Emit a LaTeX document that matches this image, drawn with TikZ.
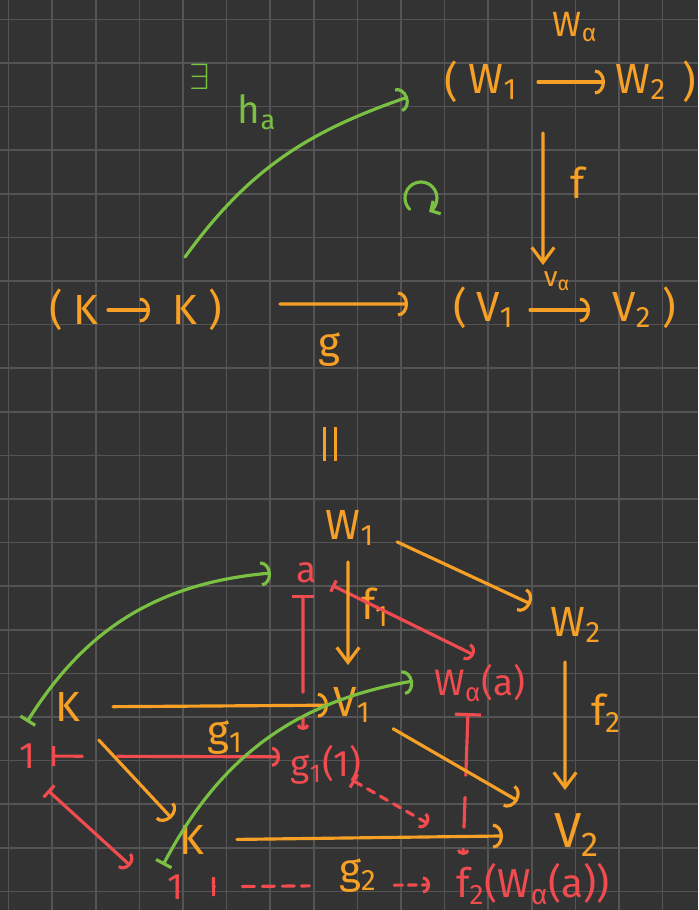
\documentclass[tikz,border=0pt]{standalone}
\usepackage{fontspec}
\setmainfont{Fira Sans}
\usepackage{tikz}
\usetikzlibrary{arrows.meta,fit}
\definecolor{boardbg}{RGB}{51,51,51}
\definecolor{boardgrid}{RGB}{84,84,84}
\definecolor{penorange}{RGB}{247,160,38}
\definecolor{pengreen}{RGB}{122,193,67}
\definecolor{penred}{RGB}{240,76,80}
\newcommand{\penidx}[1]{\textsubscript{#1}}

\begin{document}
\begin{tikzpicture}[
  x=0.02cm, y=-0.02cm,
  every node/.style={inner sep=2pt},
  otxt/.style={text=penorange, font=\fontsize{24}{28}\selectfont},
  rtxt/.style={text=penred, font=\fontsize{21}{25}\selectfont},
  gtxt/.style={text=pengreen, font=\fontsize{20}{24}\selectfont},
  ink/.style={line width=1.8pt, line cap=round},
  oarr/.style={ink, draw=penorange, -{Arc Barb[length=2mm, width=5mm]}},
  odown/.style={ink, draw=penorange, -{Straight Barb[length=3mm, width=4.5mm]}},
  rmap/.style={ink, draw=penred, {Bar[width=4mm]}-{Arc Barb[length=1.6mm, width=4mm]}},
  garr/.style={ink, draw=pengreen, -{Arc Barb[length=2mm, width=5mm]}},
  gmap/.style={ink, draw=pengreen, {Bar[width=3.5mm]}-{Arc Barb[length=2mm, width=5mm]}},
  boardline/.style={draw=boardgrid, line width=1pt}
]
\useasboundingbox (0,0) rectangle (698,910);
\fill[boardbg] (0,0) rectangle (698,910);
\foreach \i in {0,...,15}
  \draw[boardline] ({8.6+43.6*\i},0) -- ({8.6+43.6*\i},910);
\foreach \j in {0,...,20}
  \draw[boardline] (0,{19.4+43.6*\j}) -- (698,{19.4+43.6*\j});

\node[otxt, font=\fontsize{20}{24}\selectfont] (wa) at (575,27) {W\penidx{α}};
\node[otxt] (lpW) at (451,82) {(};
\node[otxt] (W1t) at (493,82) {W\penidx{1}};
\node[otxt] (W2t) at (641,82) {W\penidx{2}};
\node[otxt] (rpW) at (689,82) {)};
\node[otxt] (lpK) at (56,310) {(};
\node[otxt] (K1t) at (86,310) {K};
\node[otxt] (K2t) at (185,310) {K};
\node[otxt] (rpK) at (215,310) {)};
\node[otxt] (lpV) at (460,308) {(};
\node[otxt] (V1t) at (495,310) {V\penidx{1}};
\node[otxt] (V2t) at (632,310) {V\penidx{2}};
\node[otxt] (rpV) at (669,308) {)};
\node[otxt, font=\fontsize{16}{18}\selectfont] (va) at (557,281) {v\penidx{α}};
\node[otxt] (flab) at (578,183) {f};
\node[otxt] (glab) at (329,350) {g};
\node[gtxt, font=\fontsize{20}{22}\selectfont] (exists) at (200,77) {$\exists$};
\node[gtxt, font=\fontsize{22}{26}\selectfont] (ha) at (257,112) {h\penidx{a}};
\coordinate (comm) at (421,198);
\node[fit=(lpW)(rpW), inner sep=0pt] (Wpair) {};
\node[fit=(lpK)(rpK), inner sep=0pt] (Kpair) {};
\node[fit=(lpV)(rpV), inner sep=0pt] (Vpair) {};

\draw[oarr, shorten <=9mm, shorten >=7.2mm] (W1t.center) -- (W2t.center);
\draw[oarr, shorten <=4.4mm, shorten >=7mm] (K1t.center) -- (K2t.center);
\draw[oarr, shorten <=7mm, shorten >=8.4mm] (V1t.center) -- (V2t.center);
\draw[odown, shorten <=10.2mm, shorten >=8.6mm] ([xshift=-.54cm]Wpair.center) -- ([xshift=-.43cm]Vpair.center);
\draw[oarr, shorten <=28.9mm, shorten >=31.3mm] ([yshift=.12cm]Kpair.center) -- ([yshift=.08cm]Vpair.center);
\draw[garr] ([xshift=.99cm, yshift=1.06cm]Kpair.center) to[out=54, in=199] ([xshift=-3.24cm, yshift=-.3cm]Wpair.center);
\draw[ink, draw=pengreen, -{Straight Barb[length=1.4mm, width=3mm]}] ([shift={(225:3.2mm)}]comm) arc[start angle=225, end angle=-60, radius=3.2mm];

\node[text=penorange] (same) at (330,444) {\rule{1.7pt}{19pt}\hspace{4.5pt}\rule{1.7pt}{19pt}};

\node[otxt] (W1b) at (350,528) {W\penidx{1}};
\node[otxt] (W2b) at (576,625) {W\penidx{2}};
\node[otxt] (V1b) at (352,705) {V\penidx{1}};
\node[otxt, font=\fontsize{28}{32}\selectfont] (V2b) at (577,835) {V\penidx{2}};
\node[otxt] (Ka) at (68,707) {K};
\node[otxt] (Kb) at (192,840) {K};
\node[otxt] (f1) at (375,607) {f\penidx{1}};
\node[otxt] (f2) at (606,713) {f\penidx{2}};
\node[otxt] (g1) at (225,738) {g\penidx{1}};
\node[otxt] (g2) at (358,876) {g\penidx{2}};
\node[rtxt] (one1) at (27,756) {1};
\node[rtxt] (elta) at (307,573) {a};
\node[rtxt] (wofa) at (480,683) {W\penidx{α}(a)};
\node[rtxt] (g1one) at (326,765) {g\penidx{1}(1)};
\node[rtxt] (one2) at (175,887) {1};
\node[rtxt, font=\fontsize{23}{27}\selectfont] (f2w) at (533,884) {f\penidx{2}(W\penidx{α}(a))};

\draw[rmap, {Bar[width=2.5mm]}-{Arc Barb[length=1.6mm, width=3.6mm]}, shorten <=5.6mm] (elta.center) -- ([shift={(-6,-28)}]wofa.center);
\draw[rmap, {Bar[width=4.4mm]}-{Arc Barb[length=1mm, width=2.5mm]}, shorten <=4.4mm, dash pattern=on 19mm off 5mm on 10mm] ([xshift=-.08cm]elta.center) -- ([shift={(-23,-35)}]g1one.center);
\draw[rmap, shorten <=5mm, shorten >=9.2mm, dash pattern=on 5.6mm off 7mm on 40mm] (one1.center) -- ([yshift=.16cm]g1one.center);
\draw[rmap, {Bar[width=5.2mm]}-{Arc Barb[length=1mm, width=2.5mm]}, dash pattern=on 12mm off 4.4mm on 6mm off 4.4mm on 5mm] ([shift={(-12,30)}]wofa.center) -- ([shift={(-70,-29)}]f2w.center);
\draw[rmap, {Bar[width=3.2mm]}-{Arc Barb[length=1.6mm, width=4mm]}, shorten <=7.8mm, shorten >=9.9mm] ([shift={(-8,8)}]one1.center) -- ([shift={(-8,12)}]one2.center);
\draw[rmap, {Bar[width=3mm]}-{Arc Barb[length=1.4mm, width=3.4mm]}, dash pattern=on 1.6mm off 1.4mm, shorten <=6.1mm, shorten >=24.2mm] (g1one.center) -- (f2w.center);
\draw[rmap, {Bar[width=3.8mm]}-{Arc Barb[length=1.4mm, width=3.4mm]}, shorten <=7.4mm, shorten >=20.6mm, dash pattern=on 0mm off 5.6mm on 2.4mm off 1.6mm on 2.4mm off 1.6mm on 2.4mm off 1.4mm on 1.6mm off 17mm on 1.6mm off 1.2mm on 1.6mm off 1.2mm on 4mm] (one2.center) -- (f2w.center);

\draw[oarr, shorten <=10.4mm, shorten >=10mm] ([yshift=.16cm]W1b.center) -- (W2b.center);
\draw[odown, shorten <=6.8mm, shorten >=8mm] ([xshift=-.04cm]W1b.center) -- ([xshift=-.08cm]V1b.center);
\draw[odown, shorten <=7.4mm, shorten >=9mm] ([xshift=-.22cm]W2b.center) -- ([xshift=-.24cm]V2b.center);
\draw[oarr, shorten <=9mm, shorten >=4.8mm] (Ka.center) -- (V1b.center);
\draw[oarr, shorten <=9mm, shorten >=6mm] (Ka.center) -- (Kb.center);
\draw[oarr, shorten <=9mm, shorten >=14.8mm] (Kb.center) -- (V2b.center);
\draw[oarr, shorten <=9.5mm, shorten >=13.7mm] (V1b.center) -- (V2b.center);

\draw[gmap] ([yshift=.68cm]one1.center) to[out=58, in=185] ([xshift=-.72cm]elta.center);
\draw[gmap] ([shift={(-12,-22)}]one2.center) to[out=62, in=190] ([shift={(-67,-2)}]wofa.center);
\end{tikzpicture}
\end{document}
